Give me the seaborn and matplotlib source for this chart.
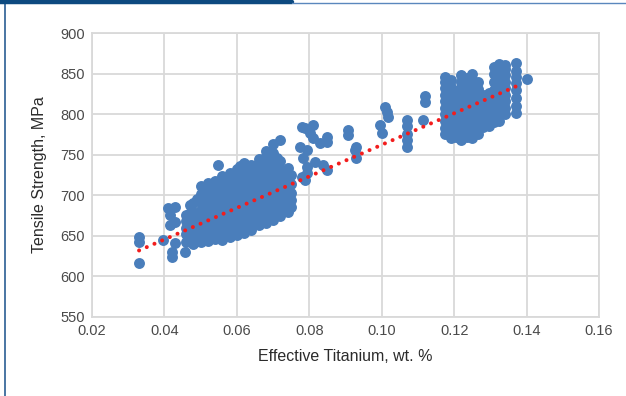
import matplotlib
matplotlib.use("Agg")
import matplotlib.pyplot as plt
import seaborn as sns
import pandas as pd
from matplotlib.lines import Line2D

# ---- data (effective Ti wt.% , tensile strength MPa) ----
# isolated low-Ti points
iso_x = [0.033, 0.033, 0.033, 0.0396, 0.041, 0.043, 0.0415, 0.043, 0.0415, 0.043, 0.042, 0.042, 0.0457, 0.047, 0.047, 0.0548]
iso_y = [648, 643, 617, 645, 684, 686, 676, 667, 663, 641, 630, 624, 630, 688, 678, 737]

# main cluster, column by column
main_cols = {
    0.046: [643, 652, 660, 668, 676],
    0.048: [640, 648, 656, 664, 672, 680, 690],
    0.049: [644, 660, 676, 695],
    0.050: [642, 650, 658, 666, 674, 682, 692, 702, 712],
    0.051: [647, 663, 680, 698, 708],
    0.052: [644, 652, 660, 668, 676, 684, 694, 704, 715],
    0.053: [649, 665, 681, 699, 710],
    0.054: [646, 654, 662, 670, 678, 686, 696, 706, 718],
    0.055: [650, 666, 682, 699, 714],
    0.056: [645, 653, 661, 669, 677, 685, 694, 703, 713, 724],
    0.057: [652, 668, 684, 701, 720],
    0.058: [648, 656, 664, 672, 680, 688, 697, 706, 716, 727],
    0.059: [655, 671, 687, 704, 724],
    0.060: [651, 659, 667, 675, 683, 691, 700, 709, 719, 732],
    0.061: [657, 673, 689, 706, 726, 736],
    0.062: [653, 661, 669, 677, 685, 693, 702, 711, 721, 731, 740],
    0.063: [661, 677, 693, 710, 730],
    0.064: [657, 665, 673, 681, 689, 697, 706, 715, 725, 737],
    0.065: [667, 683, 699, 716, 736],
    0.066: [663, 671, 679, 687, 695, 703, 712, 721, 731, 745],
    0.067: [670, 686, 702, 719, 740],
    0.068: [666, 674, 682, 690, 698, 706, 715, 724, 734, 748, 755],
    0.069: [674, 690, 706, 723, 744],
    0.070: [670, 678, 686, 694, 702, 710, 719, 728, 738, 752, 763],
    0.071: [678, 694, 710, 727, 746],
    0.072: [674, 682, 690, 698, 706, 714, 723, 732, 742, 768],
    0.073: [684, 700, 716, 730],
    0.074: [680, 688, 696, 704, 712, 722, 734],
    0.075: [686, 694, 703, 714, 725],
}

# middle range points
mid_x = [0.0775, 0.078, 0.078, 0.0794, 0.0788, 0.081, 0.0802, 0.081, 0.0849, 0.0849, 0.083, 0.0794,
         0.0783, 0.0816, 0.0838, 0.0849, 0.0794, 0.0788, 0.0907, 0.0907, 0.093, 0.0926, 0.093,
         0.101, 0.1015, 0.1017, 0.0995, 0.100, 0.107, 0.107, 0.107, 0.107, 0.107,
         0.112, 0.112, 0.1114, 0.140]
mid_y = [760, 784, 723, 735, 783, 787, 777, 770, 772, 766, 764, 756,
         746, 741, 737, 731, 727, 719, 780, 774, 760, 756, 746,
         809, 803, 797, 787, 777, 760, 768, 776, 785, 793,
         822, 815, 793, 843]

# high-Ti cluster, column by column
high_cols = {
    0.1175: [775, 783, 791, 800, 808, 816, 824, 832, 840, 846],
    0.1190: [770, 778, 786, 794, 802, 810, 818, 826, 834, 842],
    0.1205: [772, 780, 788, 796, 804, 812, 820, 828],
    0.1220: [768, 776, 784, 792, 800, 808, 816, 824, 832, 840, 848],
    0.1235: [772, 780, 788, 796, 804, 812, 820, 828, 836, 845],
    0.1250: [770, 778, 786, 794, 802, 810, 818, 826, 834, 842, 850],
    0.1265: [775, 783, 791, 799, 807, 815, 823, 831, 839],
    0.1280: [784, 792, 800, 808, 816, 824],
    0.1295: [786, 794, 802, 810, 818, 826],
    0.1310: [790, 798, 806, 814, 822, 830, 840, 850, 858],
    0.1325: [792, 800, 808, 816, 824, 832, 840, 848, 856, 862],
    0.1340: [800, 808, 816, 824, 832, 840, 848, 856, 860],
    0.1372: [801, 810, 820, 830, 838, 846, 853, 863],
}

# linear trend line end points
trend_x = [0.033, 0.138]
trend_y = [632, 836]

x_ticks = [0.02, 0.04, 0.06, 0.08, 0.10, 0.12, 0.14, 0.16]
x_tick_labels = ["0.02", "0.04", "0.06", "0.08", "0.10", "0.12", "0.14", "0.16"]
y_ticks = [550, 600, 650, 700, 750, 800, 850, 900]

# ---- build table ----
xs, ys = list(iso_x), list(iso_y)
for cx, vals in main_cols.items():
    xs += [cx] * len(vals); ys += vals
xs += mid_x; ys += mid_y
for cx, vals in high_cols.items():
    xs += [cx] * len(vals); ys += vals
df = pd.DataFrame({"ti": xs, "ts": ys})
trend = pd.DataFrame({"ti": trend_x, "ts": trend_y})

sns.set_theme(style="white")
plt.rcParams["font.family"] = ["Liberation Sans", "DejaVu Sans"]

fig = plt.figure(figsize=(6.26, 3.96), dpi=100)
ax = fig.add_axes([92 / 626, 1 - 317 / 396, (599 - 92) / 626, (317 - 33) / 396])

sns.scatterplot(data=df, x="ti", y="ts", ax=ax, color="#4a7ebb", s=62,
                linewidth=0, alpha=1, zorder=3)
sns.lineplot(data=trend, x="ti", y="ts", ax=ax, color="#f21d1d", lw=2.9,
             linestyle=(0, (0.01, 2.07)), dash_capstyle="round", zorder=4)

ax.set_xlim(0.02, 0.16)
ax.set_ylim(550, 900)
ax.set_xticks(x_ticks)
ax.set_xticklabels(x_tick_labels)
ax.set_yticks(y_ticks)
ax.grid(True, color="#d9d9d9", lw=1.3, zorder=0)
ax.set_axisbelow(True)
for s in ax.spines.values():
    s.set_color("#d9d9d9")
    s.set_linewidth(1.3)
ax.tick_params(axis="both", length=0, labelsize=10.5, colors="#4a4a4a", pad=5)
ax.set_xlabel("Effective Titanium, wt. %", fontsize=11.5, color="#2b2b2b", labelpad=8)
ax.set_ylabel("Tensile Strength, MPa", fontsize=11.5, color="#2b2b2b", labelpad=10)

# page frame decoration
fig.add_artist(Line2D([5 / 626, 5 / 626], [0, 1], transform=fig.transFigure, color="#2a5d94", lw=1.2))
fig.add_artist(Line2D([0, 292 / 626], [1 - 1.5 / 396, 1 - 1.5 / 396], transform=fig.transFigure,
                      color="#0d4a80", lw=3.2))
fig.add_artist(Line2D([292 / 626, 1], [1 - 2.5 / 396, 1 - 2.5 / 396], transform=fig.transFigure,
                      color="#5a87bd", lw=1.0))

fig.savefig("out.png", dpi=100)
